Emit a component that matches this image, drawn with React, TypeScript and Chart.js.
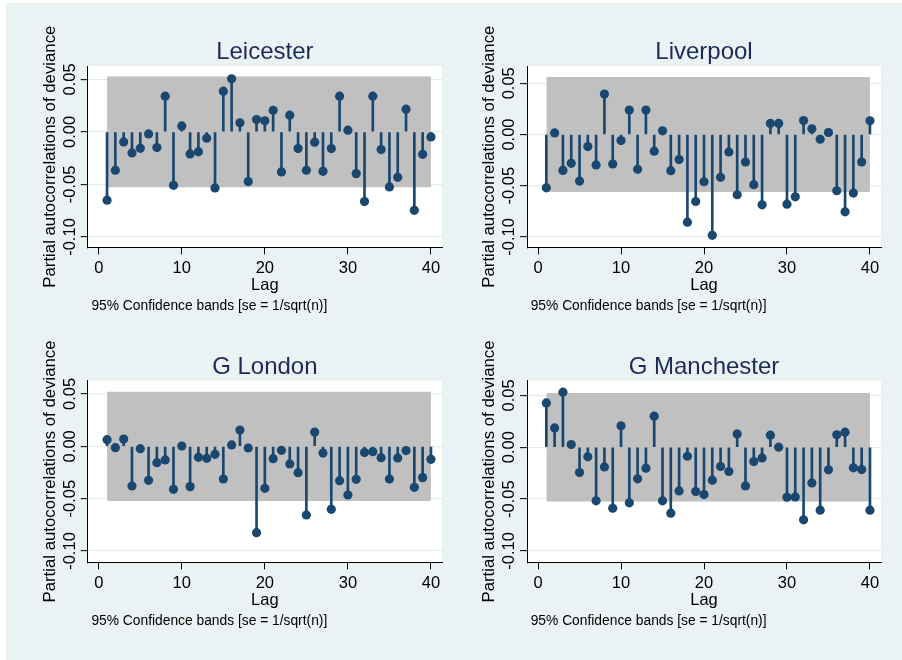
import React, { useEffect, useRef } from "react";
import { Chart, registerables } from "chart.js";

Chart.register(...registerables);

// ---- data ----
const lags = [1, 2, 3, 4, 5, 6, 7, 8, 9, 10, 11, 12, 13, 14, 15, 16, 17, 18, 19, 20, 21, 22, 23, 24, 25, 26, 27, 28, 29, 30, 31, 32, 33, 34, 35, 36, 37, 38, 39, 40];
const xTickValues = [0, 10, 20, 30, 40];
const yTickValues = [0.05, 0, -0.05, -0.1];
const yTickLabels = ["0.05", "0.00", "-0.05", "-0.10"];
const yAxisTitle = "Partial autocorrelations of deviance";
const xAxisTitle = "Lag";
const noteText = "95% Confidence bands [se = 1/sqrt(n)]";

const leicester = [-0.065, -0.0365, -0.0095, -0.02, -0.0156, -0.0019, -0.0149, 0.034, -0.0508, 0.0057, -0.021, -0.019, -0.006, -0.0533, 0.0387, 0.0505, 0.0086, -0.0473, 0.0117, 0.0105, 0.0206, -0.0381, 0.0159, -0.0159, -0.0365, -0.0098, -0.0375, -0.0159, 0.034, 0.0016, -0.0397, -0.0663, 0.034, -0.0168, -0.0524, -0.0432, 0.0216, -0.0746, -0.0213, -0.0048];
const liverpool = [-0.052, 0.0016, -0.035, -0.0281, -0.0454, -0.0118, -0.0297, 0.0395, -0.0288, -0.0059, 0.0239, -0.034, 0.0239, -0.0163, 0.0036, -0.0353, -0.0245, -0.0856, -0.0654, -0.0461, -0.0984, -0.0418, -0.017, -0.0588, -0.0268, -0.049, -0.0686, 0.0108, 0.0108, -0.068, -0.0608, 0.0137, 0.0056, -0.0046, 0.002, -0.0549, -0.0755, -0.0572, -0.0268, 0.0134];
const gLondon = [0.0064, -0.0013, 0.007, -0.0379, -0.0022, -0.0325, -0.0156, -0.013, -0.0411, 0.0003, -0.0385, -0.0105, -0.0115, -0.0076, -0.0312, 0.0013, 0.0156, -0.0016, -0.0825, -0.0401, -0.0118, -0.0038, -0.0169, -0.0252, -0.0656, 0.0137, -0.0064, -0.0602, -0.0328, -0.0465, -0.0315, -0.006, -0.0051, -0.0108, -0.0312, -0.0111, -0.0041, -0.0392, -0.0299, -0.0124];
const gManchester = [0.0427, 0.0186, 0.053, 0.0026, -0.0244, -0.0093, -0.0517, -0.019, -0.0588, 0.0206, -0.0536, -0.0305, -0.0202, 0.0299, -0.0517, -0.0636, -0.0421, -0.0087, -0.0427, -0.0456, -0.0318, -0.0186, -0.0234, 0.0128, -0.0373, -0.0138, -0.0103, 0.0116, 0, -0.0482, -0.0479, -0.07, -0.0344, -0.0607, -0.0218, 0.0119, 0.0145, -0.0199, -0.0215, -0.0607];

const bandLeicester = 0.0527;
const bandLiverpool = 0.0562;
const bandGLondon = 0.0522;
const bandGManchester = 0.0522;

// ---- style ----
const NAVY = "#1a476f";
const BAND = "#c0c0c0";
const BG = "#eaf2f3";
const GRID = "#e3ecef";
const TITLE_COLOR = "#1c2b5a";
const FONT = '"Liberation Sans", Arial, Helvetica, sans-serif';

type Panel = {
  title: string;
  values: number[];
  band: number;
  yMin: number;
  yMax: number;
  left: number;
  top: number;
  pad: { left: number; top: number; right: number; bottom: number };
};

const panels: Panel[] = [
  { title: "Leicester", values: leicester, band: bandLeicester, yMin: -0.1098, yMax: 0.0627, left: 0, top: 0, pad: { left: 87.7, top: 66, right: 9, bottom: 82.7 } },
  { title: "Liverpool", values: liverpool, band: bandLiverpool, yMin: -0.1101, yMax: 0.0669, left: 451, top: 0, pad: { left: 76, top: 66, right: 21, bottom: 82.7 } },
  { title: "G London", values: gLondon, band: bandGLondon, yMin: -0.1108, yMax: 0.0627, left: 0, top: 330, pad: { left: 87.7, top: 50.7, right: 9, bottom: 97.7 } },
  { title: "G Manchester", values: gManchester, band: bandGManchester, yMin: -0.1109, yMax: 0.0641, left: 451, top: 330, pad: { left: 76, top: 50.7, right: 21, bottom: 97.7 } },
];

const panelPlugin = {
  id: "panelDecor",
  beforeDraw(chart: any) {
    const { ctx, chartArea } = chart;
    ctx.save();
    ctx.fillStyle = "#ffffff";
    ctx.fillRect(chartArea.left, chartArea.top, chartArea.right - chartArea.left, chartArea.bottom - chartArea.top);
    ctx.restore();
  },
  afterDraw(chart: any) {
    const { ctx, chartArea } = chart;
    const { left, right, top, bottom } = chartArea;
    const title = chart.options.plugins.panelDecor.title;
    const xs = chart.scales.x;
    const ys = chart.scales.y;
    ctx.save();
    // Title
    ctx.fillStyle = TITLE_COLOR;
    ctx.font = `24px ${FONT}`;
    ctx.textAlign = "center";
    ctx.textBaseline = "alphabetic";
    ctx.fillText(title, (left + right) / 2, top - 7);

    ctx.fillStyle = "#000000";
    // Y axis title
    ctx.save();
    ctx.translate(left - 32.7, (top + bottom) / 2);
    ctx.rotate(-Math.PI / 2);
    ctx.font = `16.8px ${FONT}`;
    ctx.textAlign = "center";
    ctx.fillText(yAxisTitle, 0, 0);
    ctx.restore();

    // Y tick labels (rotated)
    ctx.font = `16.5px ${FONT}`;
    yTickValues.forEach((v, i) => {
      const py = ys.getPixelForValue(v);
      ctx.save();
      ctx.translate(left - 13, py);
      ctx.rotate(-Math.PI / 2);
      ctx.textAlign = "center";
      ctx.fillText(yTickLabels[i], 0, 0);
      ctx.restore();
    });

    // X tick labels
    ctx.textAlign = "center";
    xTickValues.forEach((v) => {
      ctx.fillText(String(v), xs.getPixelForValue(v), bottom + 26);
    });

    // X axis title
    ctx.fillText(xAxisTitle, (left + right) / 2, bottom + 42.3);

    // Note
    ctx.font = `13.8px ${FONT}`;
    ctx.textAlign = "left";
    ctx.fillText(noteText, left + 3.7, bottom + 63);
    ctx.restore();
  },
};

function PanelChart({ panel }: { panel: Panel }) {
  const ref = useRef<HTMLCanvasElement | null>(null);
  useEffect(() => {
    if (!ref.current) return;
    const chart = new Chart(ref.current, {
      type: "bar",
      data: {
        datasets: [
          {
            type: "scatter",
            data: lags.map((l, i) => ({ x: l, y: panel.values[i] })),
            backgroundColor: NAVY,
            borderWidth: 0,
            pointRadius: 4.6,
            pointHoverRadius: 4.6,
            order: 1,
          } as any,
          {
            type: "bar",
            data: lags.map((l, i) => ({ x: l, y: [0, panel.values[i]] })),
            backgroundColor: NAVY,
            borderWidth: 0,
            barThickness: 2,
            order: 2,
          } as any,
          {
            type: "line",
            data: [
              { x: lags[0], y: panel.band },
              { x: lags[lags.length - 1], y: panel.band },
            ],
            borderWidth: 0,
            borderColor: BAND,
            backgroundColor: BAND,
            pointRadius: 0,
            fill: { value: -panel.band },
            order: 3,
          } as any,
        ],
      },
      options: {
        responsive: false,
        animation: false,
        events: [],
        layout: { padding: panel.pad },
        plugins: {
          legend: { display: false },
          tooltip: { enabled: false },
          title: { display: false },
          panelDecor: { title: panel.title },
        } as any,
        scales: {
          x: {
            type: "linear",
            min: -1.33,
            max: 41.33,
            offset: false,
            afterBuildTicks: (s: any) => {
              s.ticks = xTickValues.map((v) => ({ value: v }));
            },
            afterFit: (s: any) => {
              s.height = 0;
            },
            ticks: { display: false },
            grid: { offset: false, drawOnChartArea: false, drawTicks: true, tickLength: 7, tickColor: "#000", tickWidth: 1 },
            border: { display: true, color: "#000", width: 1 },
          },
          y: {
            type: "linear",
            min: panel.yMin,
            max: panel.yMax,
            afterBuildTicks: (s: any) => {
              s.ticks = yTickValues.map((v) => ({ value: v }));
            },
            afterFit: (s: any) => {
              s.width = 0;
            },
            ticks: { display: false },
            grid: { drawOnChartArea: true, color: GRID, lineWidth: 1.3, drawTicks: true, tickLength: 7, tickColor: "#000", tickWidth: 1 },
            border: { display: true, color: "#000", width: 1 },
          },
        } as any,
      },
      plugins: [panelPlugin],
    });
    return () => chart.destroy();
  }, [panel]);
  return (
    <canvas
      ref={ref}
      width={451}
      height={330}
      style={{ position: "absolute", left: panel.left, top: panel.top, width: 451, height: 330 }}
    />
  );
}

export default function App() {
  return (
    <div style={{ position: "absolute", left: 0, top: 0, width: 902, height: 660, background: "#ffffff", overflow: "hidden" }}>
      <div style={{ position: "absolute", left: 6, top: 3, width: 896, height: 657, background: BG }} />
      {panels.map((p) => (
        <PanelChart key={p.title} panel={p} />
      ))}
    </div>
  );
}
